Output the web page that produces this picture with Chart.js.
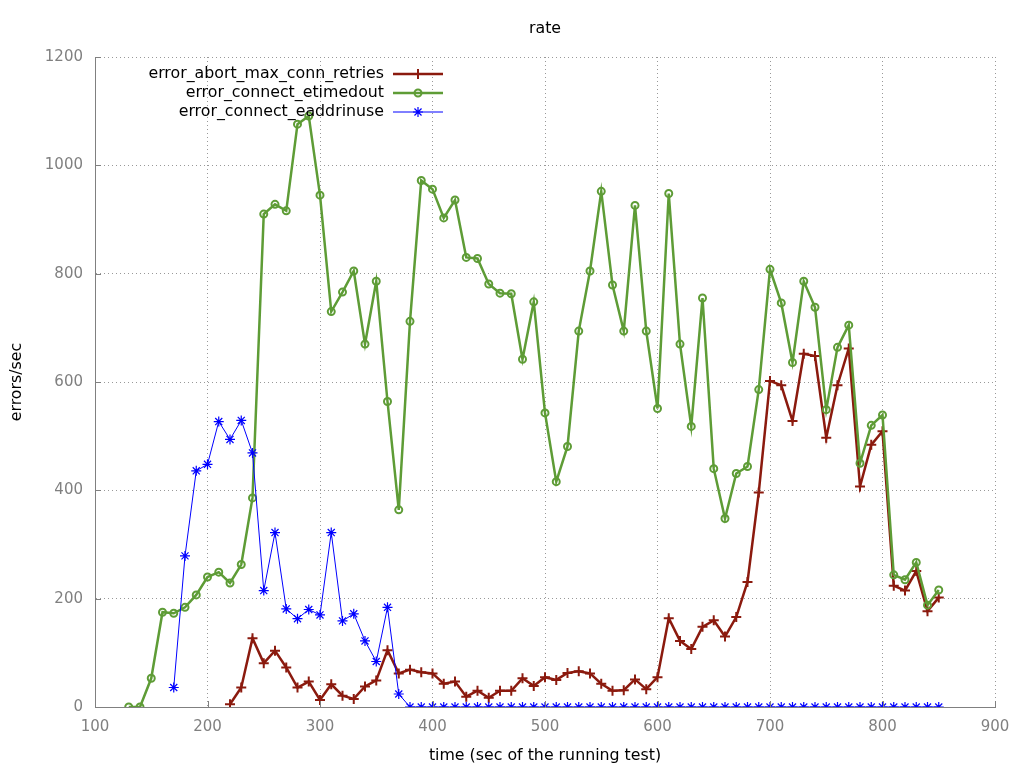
<!DOCTYPE html>
<html>
<head>
<meta charset="utf-8">
<title>rate</title>
<script src="https://cdn.jsdelivr.net/npm/chart.js@4.4.1/dist/chart.umd.min.js"></script>
<style>
  html, body { margin: 0; padding: 0; background: #fff; }
  #chart { display: block; }
</style>
</head>
<body>
<canvas id="chart" width="1024" height="768"></canvas>
<script>
// tiempos (s) de cada muestra
const times = [130, 140, 150, 160, 170, 180, 190, 200, 210, 220,
               230, 240, 250, 260, 270, 280, 290, 300, 310, 320,
               330, 340, 350, 360, 370, 380, 390, 400, 410, 420,
               430, 440, 450, 460, 470, 480, 490, 500, 510, 520,
               530, 540, 550, 560, 570, 580, 590, 600, 610, 620,
               630, 640, 650, 660, 670, 680, 690, 700, 710, 720,
               730, 740, 750, 760, 770, 780, 790, 800, 810, 820,
               830, 840, 850];

const abortRetries = [null, null, null, null, null, null, null, null, null, 5,
                      36, 127, 81, 104, 73, 36, 47, 13, 42, 21,
                      15, 38, 49, 105, 62, 69, 64, 62, 43, 47,
                      19, 30, 17, 30, 30, 53, 39, 55, 50, 63,
                      66, 62, 43, 30, 31, 51, 33, 55, 164, 122,
                      107, 148, 160, 130, 166, 231, 396, 602, 594, 528,
                      652, 648, 497, 594, 662, 407, 484, 509, 224, 215,
                      251, 177, 202];

const etimedout = [0, 0, 53, 175, 173, 184, 207, 240, 249, 229,
                   263, 386, 910, 928, 916, 1076, 1091, 945, 730, 766,
                   805, 670, 786, 564, 364, 712, 972, 956, 903, 936,
                   830, 828, 781, 764, 763, 642, 748, 543, 416, 481,
                   694, 805, 952, 779, 694, 926, 694, 551, 948, 670,
                   518, 755, 440, 348, 431, 444, 586, 808, 746, 636,
                   786, 738, 549, 664, 705, 450, 520, 539, 244, 235,
                   267, 188, 216];

const eaddrinuse = [null, null, null, null, 36, 279, 436, 448, 527, 494,
                    529, 469, 215, 322, 181, 163, 180, 170, 322, 159,
                    172, 122, 84, 184, 24, 0, 0, 0, 0, 0,
                    0, 0, 0, 0, 0, 0, 0, 0, 0, 0,
                    0, 0, 0, 0, 0, 0, 0, 0, 0, 0,
                    0, 0, 0, 0, 0, 0, 0, 0, 0, 0,
                    0, 0, 0, 0, 0, 0, 0, 0, 0, 0,
                    0, 0, 0];

const xTicks = [100, 200, 300, 400, 500, 600, 700, 800, 900];
const yTicks = [0, 200, 400, 600, 800, 1000, 1200];

const FONT = "'DejaVu Sans', sans-serif";
const TEXT_SIZE = 15.8;
const gray = '#808080';

// titulo y leyenda al estilo gnuplot (texto a la derecha, muestra a la izquierda)
const gnuplotDecor = {
    id: 'gnuplotDecor',
    afterDraw(chart) {
        const ctx = chart.ctx;
        const area = chart.chartArea;
        ctx.save();

        // marcas de eje hacia dentro
        ctx.strokeStyle = gray;
        ctx.lineWidth = 1;
        ctx.beginPath();
        chart.scales.y.ticks.forEach(t => {
            const py = Math.round(chart.scales.y.getPixelForValue(t.value)) + 0.5;
            ctx.moveTo(area.left, py);
            ctx.lineTo(area.left + 6, py);
        });
        chart.scales.x.ticks.forEach(t => {
            const px = Math.round(chart.scales.x.getPixelForValue(t.value)) + 0.5;
            ctx.moveTo(px, area.bottom);
            ctx.lineTo(px, area.bottom - 6);
        });
        ctx.stroke();

        ctx.fillStyle = '#000';
        ctx.font = TEXT_SIZE + 'px ' + FONT;
        ctx.textAlign = 'center';
        ctx.textBaseline = 'middle';
        ctx.fillText('rate', (area.left + area.right) / 2, 29);

        ctx.textAlign = 'right';
        chart.data.datasets.forEach((ds, i) => {
            const y = 74 + i * 19;
            ctx.fillStyle = '#000';
            ctx.fillText(ds.label, 384, y);
            ctx.strokeStyle = ds.borderColor;
            ctx.lineWidth = ds.borderWidth;
            ctx.beginPath();
            ctx.moveTo(393, y);
            ctx.lineTo(443, y);
            ctx.stroke();
            ctx.lineWidth = ds.pointBorderWidth;
            ctx.fillStyle = ds.pointBackgroundColor;
            Chart.helpers.drawPoint(ctx, {
                pointStyle: ds.pointStyle,
                radius: ds.pointRadius,
                rotation: 0,
                borderWidth: ds.pointBorderWidth
            }, 418, y);
        });
        ctx.restore();
    }
};

new Chart(document.getElementById('chart').getContext('2d'), {
    type: 'line',
    data: {
        labels: times,
        datasets: [
            {
                label: 'error_abort_max_conn_retries',
                data: abortRetries,
                borderColor: '#8b1a0e',
                borderWidth: 2.5,
                pointStyle: 'cross',
                pointRadius: 5,
                pointBorderWidth: 2,
                pointBorderColor: '#8b1a0e',
                pointBackgroundColor: 'transparent',
                order: 3
            },
            {
                label: 'error_connect_etimedout',
                data: etimedout,
                borderColor: '#5e9c36',
                borderWidth: 2.5,
                pointStyle: 'circle',
                pointRadius: 3.5,
                pointBorderWidth: 2,
                pointBorderColor: '#5e9c36',
                pointBackgroundColor: 'transparent',
                order: 2
            },
            {
                label: 'error_connect_eaddrinuse',
                data: eaddrinuse,
                borderColor: '#0000ff',
                borderWidth: 1,
                pointStyle: 'star',
                pointRadius: 5,
                pointBorderWidth: 1.2,
                pointBorderColor: '#0000ff',
                pointBackgroundColor: 'transparent',
                order: 1
            }
        ]
    },
    options: {
        responsive: false,
        animation: false,
        devicePixelRatio: 1,
        layout: { padding: { top: 57, right: 29, left: 0, bottom: 0 } },
        elements: { line: { tension: 0 } },
        plugins: {
            legend: { display: false },
            title: { display: false },
            tooltip: { enabled: false }
        },
        scales: {
            x: {
                type: 'linear',
                min: xTicks[0],
                max: xTicks[xTicks.length - 1],
                afterBuildTicks: s => { s.ticks = xTicks.map(v => ({ value: v })); },
                afterFit: s => { s.height = 61; },
                grid: { color: '#999', drawTicks: false },
                border: { color: gray, width: 1, dash: [1, 3] },
                ticks: {
                    color: gray, padding: 11, maxRotation: 0,
                    font: { family: FONT, size: 15 },
                    callback: v => String(v)
                },
                title: {
                    display: true,
                    text: 'time (sec of the running test)',
                    color: '#000',
                    padding: { top: 0, bottom: 3 },
                    font: { family: FONT, size: TEXT_SIZE }
                }
            },
            y: {
                min: yTicks[0],
                max: yTicks[yTicks.length - 1],
                afterBuildTicks: s => { s.ticks = yTicks.map(v => ({ value: v })); },
                afterFit: s => { s.width = 95; },
                grid: { color: '#999', drawTicks: false },
                border: { color: gray, width: 1, dash: [1, 3] },
                ticks: {
                    color: gray, padding: 12,
                    font: { family: FONT, size: 15 },
                    callback: v => String(v)
                },
                title: {
                    display: true,
                    text: 'errors/sec',
                    color: '#000',
                    padding: { top: 7, bottom: 0 },
                    font: { family: FONT, size: TEXT_SIZE }
                }
            }
        }
    },
    plugins: [gnuplotDecor]
});
</script>
</body>
</html>
